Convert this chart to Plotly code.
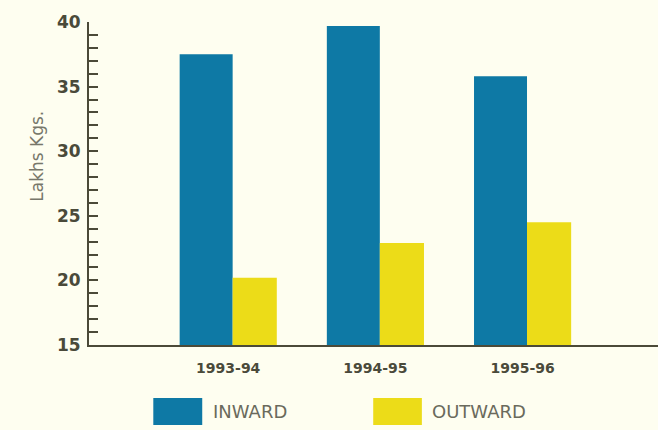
import plotly.graph_objects as go

# Cargo handled, in lakhs of kilograms
years = ["1993-94", "1994-95", "1995-96"]
inward = [37.5, 39.7, 35.8]
outward = [20.2, 22.9, 24.5]
y_ticks = [15, 20, 25, 30, 35, 40]
series_names = ["INWARD", "OUTWARD"]

BLUE = "#0e79a5"
YELLOW = "#ecdc18"
BG = "#fefef0"
AXIS = "#4b4a38"
TXT = "#4a4a3a"

fig = go.Figure()
fig.add_trace(go.Bar(
    x=years, y=[v - 15 for v in inward], base=15, name=series_names[0],
    marker=dict(color=BLUE, line=dict(width=0)),
    width=0.36, offset=-0.33,
))
fig.add_trace(go.Bar(
    x=years, y=[v - 15 for v in outward], base=15, name=series_names[1],
    marker=dict(color=YELLOW, line=dict(width=0)),
    width=0.30, offset=0.03,
))

fig.update_layout(
    width=658, height=430,
    margin=dict(l=89, r=0, t=22, b=85),
    paper_bgcolor=BG, plot_bgcolor=BG,
    barmode="overlay",
    showlegend=False,
    font=dict(family="DejaVu Sans", color=TXT),
)

fig.update_xaxes(
    type="category", range=[-0.946, 2.92],
    showline=True, linecolor=AXIS, linewidth=2,
    showgrid=False, ticks="", zeroline=False,
    tickfont=dict(family="DejaVu Sans", size=14, color=TXT, weight="bold"),
    ticklabelstandoff=9,
)
fig.update_yaxes(
    range=[15, 40], tickvals=y_ticks,
    showline=True, linecolor=AXIS, linewidth=2,
    showgrid=False, zeroline=False,
    ticks="inside", ticklen=9, tickwidth=1.5, tickcolor=AXIS,
    minor=dict(dtick=1, ticks="inside", ticklen=9, tickwidth=1.5, tickcolor=AXIS),
    tickfont=dict(family="DejaVu Sans", size=17, color=TXT, weight="bold"),
    ticklabelstandoff=3,
)

# y-axis title
fig.add_annotation(
    text="Lakhs Kgs.", xref="paper", yref="paper", x=-0.113, y=0.585,
    textangle=-90, showarrow=False,
    font=dict(family="DejaVu Sans", size=17, color="#77776a"),
)

# legend drawn below the axis with large swatches
legend_items = [
    (series_names[0], BLUE, 0.113, 0.199),
    (series_names[1], YELLOW, 0.4995, 0.585),
]
for name, color, x0, x1 in legend_items:
    fig.add_shape(type="rect", xref="paper", yref="paper",
                  x0=x0, x1=x1, y0=-0.248, y1=-0.164,
                  fillcolor=color, line=dict(width=0))
    fig.add_annotation(
        text=name, xref="paper", yref="paper", x=x1 + 0.015, y=-0.206,
        xanchor="left", yanchor="middle", showarrow=False,
        font=dict(family="DejaVu Sans", size=18, color="#6a6a5c"),
    )

fig.write_html("out.html")
